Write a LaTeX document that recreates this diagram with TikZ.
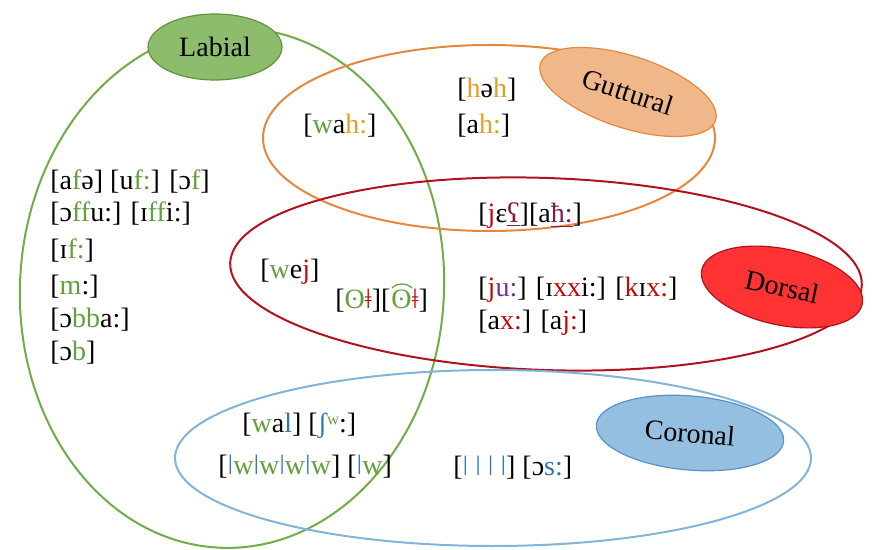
\documentclass[tikz,border=0pt]{standalone}
\usepackage{fontspec}
\setmainfont{Liberation Serif}
\usepackage{xcolor}
\definecolor{labgreen}{RGB}{112,173,71}
\definecolor{labtext}{RGB}{98,160,62}
\definecolor{gutorange}{RGB}{230,135,60}
\definecolor{guttext}{RGB}{228,158,32}
\definecolor{dorred}{RGB}{178,18,30}
\definecolor{dortext}{RGB}{192,10,10}
\definecolor{corblue}{RGB}{130,180,218}
\definecolor{cortext}{RGB}{46,117,182}
\definecolor{phapurple}{RGB}{112,48,160}
\definecolor{phamaroon}{RGB}{122,30,80}
\usepackage{tikz}
\usetikzlibrary{shapes.geometric,calc}

\newcommand{\labc}[1]{\textcolor{labtext}{#1}}
\newcommand{\gutc}[1]{\textcolor{guttext}{#1}}
\newcommand{\dorc}[1]{\textcolor{dortext}{#1}}
\newcommand{\corc}[1]{\textcolor{cortext}{#1}}

\begin{document}
\begin{tikzpicture}[x=0.5pt, y=-0.5pt,
  setline/.style={line width=1pt},
  setlabel/.style={ellipse, draw, line width=0.6pt, inner sep=0pt, font=\fontsize{14}{17}\selectfont},
  ipa/.style={anchor=west, inner sep=0pt, font=\fontsize{14}{17}\selectfont}]
  \useasboundingbox (0,0) rectangle (872,550);
  % Set outlines
  \draw[setline, draw=labgreen, rotate around={-3:(232,288)}] (232,288) ellipse [x radius=212, y radius=260];
  \draw[setline, draw=gutorange] (489,138) ellipse [x radius=226, y radius=93];
  \draw[setline, draw=dorred, rotate around={-2:(546,274)}] (546,274) ellipse [x radius=316, y radius=96];
  \draw[setline, draw=corblue] (493,458) ellipse [x radius=318, y radius=88];
  % Set labels
  \node[setlabel, draw=labgreen!85!black, fill=labgreen!80, minimum width=67pt, minimum height=33pt] (labial) at (215,47) {Labial};
  \node[setlabel, draw=gutorange, fill=gutorange!60, minimum width=92pt, minimum height=36pt, rotate=-18] (guttural) at (628,92) {Guttural};
  \node[setlabel, draw=dorred, fill=red!80, minimum width=82pt, minimum height=38pt, rotate=-12] (dorsal) at (782,287) {Dorsal};
  \node[setlabel, draw=cortext!80, fill=corblue!85, minimum width=94pt, minimum height=37pt, rotate=-5] (coronal) at (690,433) {Coronal};
  % Labial only
  \node[ipa] (lab1) at (50,182) {[a\labc{f}ə] [u\labc{f:}] [ɔ\labc{f}]};
  \node[ipa] (lab2) at (50,214) {[ɔ\labc{ff}u:] [ɪ\labc{ff}i:]};
  \node[ipa] (lab3) at (50,251) {[ɪ\labc{f:}]};
  \node[ipa] (lab4) at (50,287) {[\labc{m}:]};
  \node[ipa] (lab5) at (50,320) {[ɔ\labc{bb}a:]};
  \node[ipa] (lab6) at (50,353) {[ɔ\labc{b}]};
  % Guttural
  \node[ipa] (gut1) at (303,126) {[\labc{w}a\gutc{h:}]};
  \node[ipa] (gut2) at (457,90) {[\gutc{h}ə\gutc{h}]};
  \node[ipa] (gut3) at (457,126) {[a\gutc{h:}]};
  \node[ipa] (gut4) at (478,216) {[\dorc{j}ɛ\textcolor{phamaroon}{\underline{ʕ}}][a\textcolor{phamaroon}{\underline{ħ:}}]};
  % Dorsal
  \node[ipa] (dor1) at (260,272) {[\labc{w}e\dorc{j}]};
  \node[ipa] (dor2) at (335,301) {[\labc{ʘ}\dorc{ǂ}][};
  \node[ipa, anchor=base west] (dor2t) at (dor2.base east) {\labc{ʘ}\dorc{ǂ}]};
  \draw[labtext, line width=0.6pt] ($(dor2t.north west)+(1,-1)$) to[bend left=45] ($(dor2t.north west)+(21,-1)$);
  \node[ipa] (dor3) at (478,290) {[\dorc{j}\textcolor{phapurple}{u:}] [ɪ\dorc{xx}i:] [\dorc{k}ɪ\dorc{x:}]};
  \node[ipa] (dor4) at (478,323) {[a\dorc{x:}] [a\dorc{j:}]};
  % Coronal
  \node[ipa] (cor1) at (242,426) {[\labc{w}a\corc{l}] [\corc{ʃ}\labc{ʷ}:]};
  \node[ipa] (cor2) at (218,467) {[\corc{ǀ}\labc{w}\corc{ǀ}\labc{w}\corc{ǀ}\labc{w}\corc{ǀ}\labc{w}] [\corc{ǀ}\labc{w}]};
  \node[ipa] (cor3) at (453,468) {[\corc{ǀ ǀ ǀ ǀ}] [ɔ\corc{s:}]};
\end{tikzpicture}
\end{document}
